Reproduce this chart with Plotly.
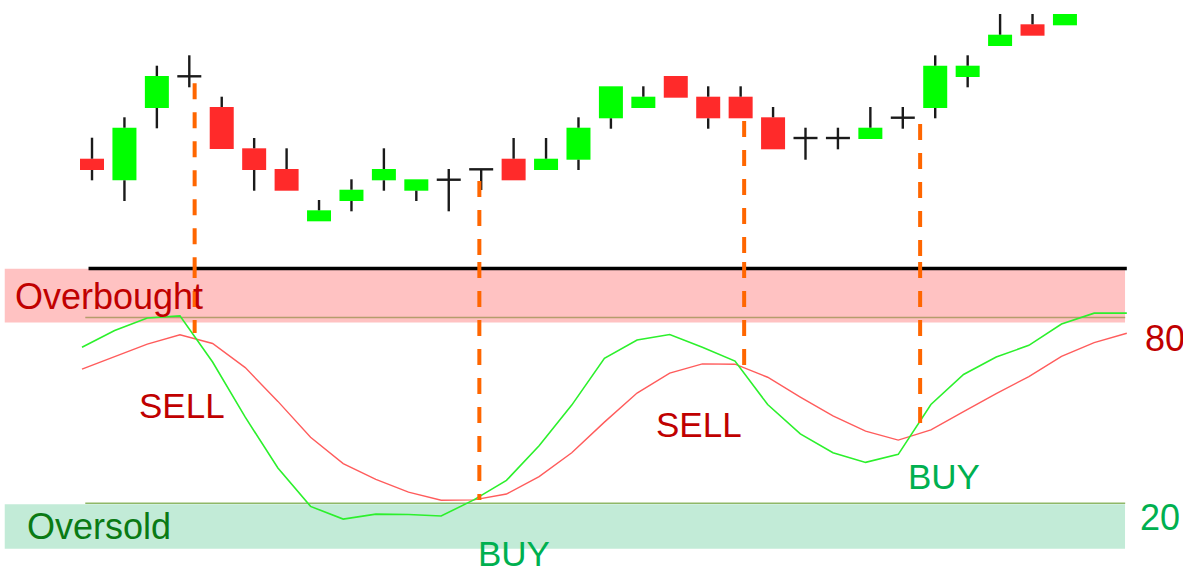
import plotly.graph_objects as go

# ---------------- Price candles ----------------
opens  = [104.13, 101.97, 109.20, 112.37, 109.30, 105.17, 103.10, 97.87, 99.90, 101.97,
          100.93, 102.03, 103.07, 104.13, 103.00, 104.03, 108.17, 109.20, 112.40, 110.33,
          110.33, 108.27, 106.20, 106.20, 106.10, 108.23, 109.20, 112.30, 115.40, 117.57,
          117.47]
closes = [103.00, 107.23, 112.40, 112.37, 105.10, 103.00, 100.93, 98.97, 101.03, 103.10,
          102.07, 102.03, 103.07, 101.97, 104.13, 107.23, 111.37, 110.33, 110.23, 108.17,
          108.17, 105.07, 106.20, 106.20, 107.23, 108.23, 113.43, 113.43, 116.53, 116.43,
          118.60]
highs  = [106.23, 108.27, 113.43, 114.47, 110.33, 106.20, 105.17, 100.00, 102.07, 105.17,
          102.07, 103.10, 103.07, 106.20, 106.20, 108.27, 111.37, 111.37, 112.40, 111.37,
          111.37, 109.30, 107.23, 107.23, 109.30, 109.30, 114.47, 114.47, 118.60, 118.60,
          118.60]
lows   = [101.97, 99.90, 107.17, 111.27, 105.10, 100.93, 100.93, 97.87, 98.87, 100.93,
          99.90, 98.87, 101.00, 101.97, 103.00, 103.00, 107.13, 109.20, 110.23, 107.13,
          108.17, 105.07, 104.03, 105.07, 106.10, 107.13, 108.17, 111.27, 115.40, 116.43,
          117.47]

# ---------------- Stochastic oscillator ----------------
k_line = [70.4, 75.8, 79.8, 80.5, 65.6, 47.8, 31.4, 19.0, 14.9, 16.5, 16.4, 15.9, 21.1,
          27.4, 38.6, 51.7, 66.8, 72.7, 74.5, 70.4, 65.9, 51.9, 42.4, 36.3, 33.2, 35.8,
          51.9, 61.6, 67.2, 71.0, 77.9, 81.4, 81.4]
d_line = [63.3, 67.3, 71.4, 74.4, 71.6, 63.8, 52.9, 41.3, 32.8, 27.7, 23.6, 21.0, 21.1,
          23.0, 28.6, 36.3, 46.2, 55.6, 62.0, 65.0, 64.9, 60.7, 54.3, 48.2, 43.3, 40.4,
          43.7, 49.6, 55.4, 60.9, 67.4, 71.9, 74.9]

overbought_level = 80
oversold_level = 20
top_level = 95.8

# Signals (oscillator index of the crossover, price where the marker starts, oscillator value)
signal_labels = ["SELL", "BUY", "SELL", "BUY"]
signal_osc_x = [3.45, 12.17, 20.28, 25.67]
signal_price = [111.67, 101.90, 107.90, 107.60]
signal_osc_val = [75.0, 21.1, 63.0, 43.1]

# ---------------- Styles ----------------
GREEN_BODY = "#00ff00"
RED_BODY = "#ff2a2a"
WICK = "#1a1a1a"
K_COLOR = "#2cf02c"
D_COLOR = "#ff5c5c"
ORANGE = "#ff6600"
FONT = "Liberation Sans, Arial, Helvetica, sans-serif"

price_range = [93.8, 120.0]
osc_range = [-0.57, 97.9]
split = 0.5379

n = len(opens)
fig = go.Figure()

# Candle bodies
up = [i for i in range(n) if closes[i] > opens[i]]
dn = [i for i in range(n) if closes[i] < opens[i]]
fig.add_trace(go.Bar(x=up, base=[opens[i] for i in up], y=[closes[i] - opens[i] for i in up],
                     width=0.74, marker=dict(color=GREEN_BODY, line=dict(width=0)),
                     xaxis="x", yaxis="y", showlegend=False, hoverinfo="skip"))
fig.add_trace(go.Bar(x=dn, base=[closes[i] for i in dn], y=[opens[i] - closes[i] for i in dn],
                     width=0.74, marker=dict(color=RED_BODY, line=dict(width=0)),
                     xaxis="x", yaxis="y", showlegend=False, hoverinfo="skip"))

# Wicks and dojis
half = 0.37
wx, wy = [], []
for i, (o, h, l, c) in enumerate(zip(opens, highs, lows, closes)):
    if o == c:
        wx += [i, i, None, i - half, i + half, None]
        wy += [h, l, None, o, o, None]
    else:
        top, bot = max(o, c), min(o, c)
        wx += [i, i, None, i, i, None]
        wy += [h, top, None, bot, l, None]
fig.add_trace(go.Scatter(x=wx, y=wy, mode="lines", line=dict(color=WICK, width=2.4),
                         xaxis="x", yaxis="y", showlegend=False, hoverinfo="skip"))

# Oscillator lines
kx = list(range(len(k_line)))
fig.add_trace(go.Scatter(x=kx, y=d_line, mode="lines", line=dict(color=D_COLOR, width=1.4),
                         xaxis="x2", yaxis="y2", showlegend=False, hoverinfo="skip"))
fig.add_trace(go.Scatter(x=kx, y=k_line, mode="lines", line=dict(color=K_COLOR, width=1.6),
                         xaxis="x2", yaxis="y2", showlegend=False, hoverinfo="skip"))

# Dashed signal lines: upper part on the price panel, lower part on the oscillator panel
for sx, sp, sv in zip(signal_osc_x, signal_price, signal_osc_val):
    fig.add_trace(go.Scatter(x=[sx, sx], y=[sp, price_range[0]], mode="lines",
                             line=dict(color=ORANGE, width=4, dash="16px,13px"),
                             xaxis="x2", yaxis="y", showlegend=False, hoverinfo="skip"))
    fig.add_trace(go.Scatter(x=[sx, sx], y=[osc_range[1], sv], mode="lines",
                             line=dict(color=ORANGE, width=4, dash="16px,13px"),
                             xaxis="x2", yaxis="y2", showlegend=False, hoverinfo="skip"))

# Bands and level lines
shapes = [
    dict(type="rect", xref="paper", yref="y2", x0=0.004, x1=0.951, y0=78.4, y1=95.7,
         fillcolor="#ffc2c2", line=dict(width=0), layer="below"),
    dict(type="rect", xref="paper", yref="y2", x0=0.004, x1=0.951, y0=5.3, y1=19.7,
         fillcolor="#c2ebd7", line=dict(width=0), layer="below"),
    dict(type="line", xref="x2", yref="y2", x0=0.2, x1=len(k_line) - 1, y0=top_level, y1=top_level,
         line=dict(color="#000000", width=3.5), layer="below"),
    dict(type="line", xref="x2", yref="y2", x0=0.1, x1=31.95, y0=overbought_level, y1=overbought_level,
         line=dict(color="#b59d6c", width=1.5), layer="below"),
    dict(type="line", xref="x2", yref="y2", x0=0.1, x1=31.95, y0=oversold_level, y1=oversold_level,
         line=dict(color="#8fb868", width=1.5), layer="below"),
]

DARK_RED = "#c00000"
BUY_GREEN = "#00b050"
annotations = [
    dict(text="Overbought", xref="paper", yref="y2", x=0.011, y=86.8, xanchor="left", yanchor="middle",
         showarrow=False, font=dict(family=FONT, size=36, color=DARK_RED)),
    dict(text="Oversold", xref="paper", yref="y2", x=0.021, y=12.35, xanchor="left", yanchor="middle",
         showarrow=False, font=dict(family=FONT, size=36, color="#0a7a14")),
    dict(text=str(overbought_level), xref="paper", yref="y2", x=0.966, y=73.3, xanchor="left",
         yanchor="middle", showarrow=False, font=dict(family=FONT, size=36, color=DARK_RED)),
    dict(text=str(oversold_level), xref="paper", yref="y2", x=0.962, y=15.4, xanchor="left",
         yanchor="middle", showarrow=False, font=dict(family=FONT, size=36, color=BUY_GREEN)),
]
label_pos = [(3.06, 51.6), (13.23, 3.95), (18.9, 45.4), (26.4, 28.8)]
for lab, (lx, ly) in zip(signal_labels, label_pos):
    annotations.append(dict(text=lab, xref="x2", yref="y2", x=lx, y=ly, xanchor="center",
                            yanchor="middle", showarrow=False,
                            font=dict(family=FONT, size=35,
                                      color=DARK_RED if lab == "SELL" else BUY_GREEN)))

fig.update_layout(
    width=1183, height=567,
    margin=dict(l=0, r=0, t=0, b=0),
    paper_bgcolor="white", plot_bgcolor="rgba(0,0,0,0)",
    barmode="overlay", showlegend=False,
    shapes=shapes, annotations=annotations,
    xaxis=dict(domain=[0, 1], range=[-2.837, 33.64], visible=False, anchor="y", fixedrange=True),
    yaxis=dict(domain=[split, 1], range=price_range, visible=False, anchor="x", fixedrange=True),
    xaxis2=dict(domain=[0, 1], range=[-2.5115, 33.721], visible=False, anchor="y2", fixedrange=True),
    yaxis2=dict(domain=[0, split], range=osc_range, visible=False, anchor="x2", fixedrange=True),
)

fig.write_html("out.html", config={"displayModeBar": False},
               post_script="document.body.style.margin='0px';document.body.style.overflow='hidden';")
